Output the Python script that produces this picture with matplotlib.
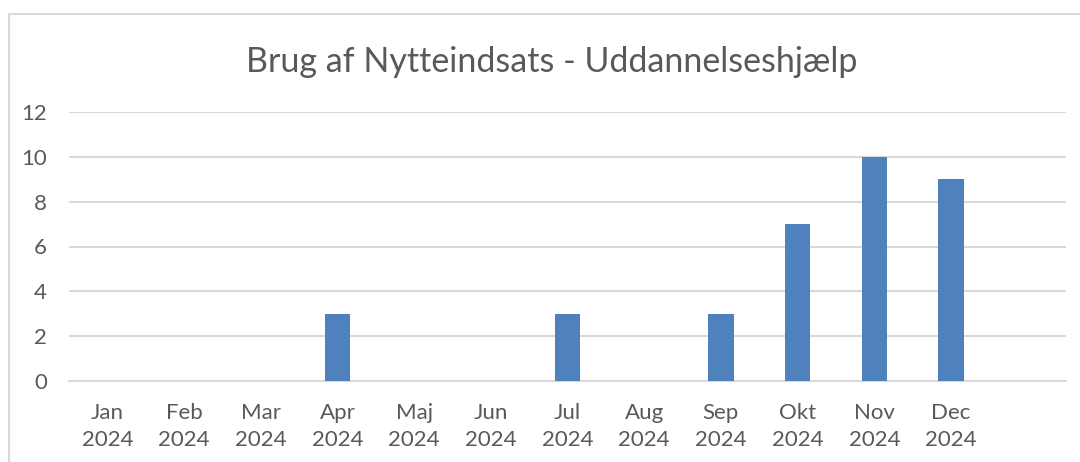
import numpy as np
import matplotlib.pyplot as plt
from matplotlib.patches import Rectangle

# monthly counts, last slot is an empty category
months = ['Jan\n2024', 'Feb\n2024', 'Mar\n2024', 'Apr\n2024', 'Maj\n2024', 'Jun\n2024',
          'Jul\n2024', 'Aug\n2024', 'Sep\n2024', 'Okt\n2024', 'Nov\n2024', 'Dec\n2024', '']
counts = [0, 0, 0, 3, 0, 0, 3, 0, 3, 7, 10, 9, 0]

txtcol = '#595959'
gridcol = '#D9D9D9'
plt.rcParams['font.family'] = ['Lato', 'DejaVu Sans']

fig = plt.figure(figsize=(10.8, 4.62), dpi=100)
ax = fig.add_axes([69/1080, 1-381/462, (1066-69)/1080, (381-112)/462])

x = np.arange(len(months))
ax.bar(x, counts, width=0.33, color='#4F81BD', zorder=3)

ax.set_xlim(-0.5, len(months)-0.5)
ax.set_ylim(0, 12)
ax.set_yticks(range(0, 13, 2))
ax.set_xticks(x)
ax.set_xticklabels(months, linespacing=1.45)
ax.yaxis.grid(True, color=gridcol, linewidth=1.5, zorder=0)
for s in ['top', 'right', 'left']:
    ax.spines[s].set_visible(False)
ax.spines['bottom'].set_color(gridcol)
ax.spines['bottom'].set_linewidth(1.5)
ax.tick_params(axis='both', length=0, colors=txtcol, labelsize=16)
ax.tick_params(axis='x', pad=16)
ax.tick_params(axis='y', pad=16)

fig.text(552/1080, 1-62/462, 'Brug af Nytteindsats - Uddannelseshjælp', ha='center', va='center',
         fontsize=24.5, color=txtcol)

# chart border (only left and top edges are visible in the crop)
fig.patches.append(Rectangle((9/1080, -0.1), 1.2, 1.1-14/462, transform=fig.transFigure,
                             fill=False, edgecolor=gridcol, linewidth=1.5))

plt.savefig('out.png')
